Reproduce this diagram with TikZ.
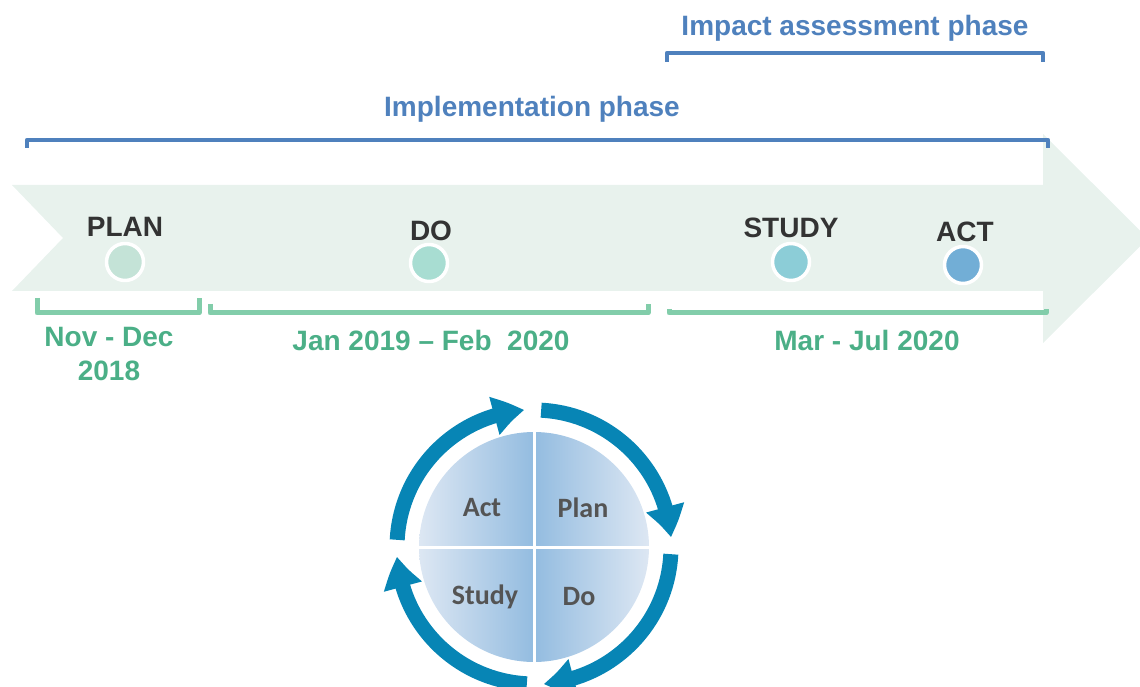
\documentclass[tikz,border=0pt]{standalone}
\usepackage{fontspec}
\setmainfont{Liberation Sans}
\newfontfamily\cyclefont{Carlito}
\usetikzlibrary{arrows.meta,bending}

\definecolor{phaseblue}{HTML}{4F81BD}
\definecolor{datetext}{HTML}{4BAF87}
\definecolor{dateline}{HTML}{82CDAA}
\definecolor{band}{HTML}{E8F2ED}
\definecolor{steptext}{HTML}{333333}
\definecolor{ringblue}{HTML}{0785B5}
\definecolor{quaddark}{HTML}{93BCE0}
\definecolor{quadlight}{HTML}{DDE7F3}
\definecolor{quadtext}{HTML}{545454}

\begin{document}
\begin{tikzpicture}[x=1pt,y=1pt,line join=round,
                    every node/.style={font=\fontsize{28}{34}\selectfont\bfseries,inner sep=0}]
  \tikzstyle{phase}=[text=phaseblue]
  \tikzstyle{phasebracket}=[draw=phaseblue,line width=4.5]
  \tikzstyle{stage}=[text=steptext]
  \tikzstyle{dot}=[circle,draw=white,line width=3.5,minimum size=37]
  \tikzstyle{period}=[text=datetext,align=center]
  \tikzstyle{periodbracket}=[draw=dateline,line width=5]
  \tikzstyle{cycarrow}=[draw=ringblue,line width=15,-{Triangle[length=31,width=37,bend]}]
  \tikzstyle{quad}=[font=\cyclefont\fontsize{28}{30}\selectfont\bfseries,text=quadtext]

  \clip (0,0) rectangle (1140,686);

  % timeline band
  \fill[band] (12,501) -- (1043,501) -- (1043,552) -- (1148,447.5) -- (1043,343)
              -- (1043,395) -- (12,395) -- (63,448) -- cycle;

  % phases
  \node[phase] (impact) at (855,658) {Impact assessment phase};
  \coordinate (impact-l) at (667,633);
  \coordinate (impact-r) at (1043,633);
  \draw[phasebracket] ([yshift=-9]impact-l) -- (impact-l) -- (impact-r) -- ([yshift=-9]impact-r);

  \node[phase] (impl) at (532,577) {Implementation phase};
  \coordinate (impl-l) at (27,546);
  \coordinate (impl-r) at (1048,546);
  \draw[phasebracket] ([yshift=-8]impl-l) -- (impl-l) -- (impl-r) -- ([yshift=-8]impl-r);

  % stages
  \node[stage] (plan)  at (125,459) {PLAN};
  \node[stage] (do)    at (431,455) {DO};
  \node[stage] (study) at (791,458) {STUDY};
  \node[stage] (act)   at (965,454) {ACT};
  \node[dot,fill={rgb,255:red,196;green,227;blue,215}] (plan-dot)  at (125,424) {};
  \node[dot,fill={rgb,255:red,168;green,221;blue,210}] (do-dot)    at (429,423) {};
  \node[dot,fill={rgb,255:red,140;green,205;blue,215}] (study-dot) at (791,424) {};
  \node[dot,fill={rgb,255:red,114;green,174;blue,214}] (act-dot)   at (963,421) {};

  % periods
  \coordinate (p1-l) at (37,373);  \coordinate (p1-r) at (199,373);
  \coordinate (p2-l) at (210,373); \coordinate (p2-r) at (648,373);
  \coordinate (p3-l) at (669,373); \coordinate (p3-r) at (1046,373);
  \draw[periodbracket] ([yshift=15]p1-l) -- (p1-l) -- (p1-r) -- ([yshift=15]p1-r);
  \draw[periodbracket] ([yshift=9]p2-l) -- (p2-l) -- (p2-r) -- ([yshift=9]p2-r);
  \draw[periodbracket] ([yshift=4]p3-l) -- (p3-l) -- (p3-r) -- ([yshift=4]p3-r);
  \node[period] (p1) at (109,332) {Nov - Dec\\2018};
  \node[period] (p2) at (431,346) {Jan 2019 -- Feb~~2020};
  \node[period] (p3) at (867,346) {Mar - Jul 2020};

  % PDCA cycle
  \begin{scope}[shift={(534,139)}]
    \shade[left color=quadlight,right color=quaddark] (0,0) -- (180:115) arc[start angle=180,end angle=90,radius=115] -- cycle;
    \shade[left color=quaddark,right color=quadlight] (0,0) -- (90:115) arc[start angle=90,end angle=0,radius=115] -- cycle;
    \shade[left color=quadlight,right color=quaddark] (0,0) -- (270:115) arc[start angle=270,end angle=180,radius=115] -- cycle;
    \shade[left color=quaddark,right color=quadlight] (0,0) -- (0:115) arc[start angle=0,end angle=-90,radius=115] -- cycle;
    \draw[white,line width=3] (-116,0) -- (116,0) (0,-116) -- (0,116);

    \draw[cycarrow] (87:137) arc[start angle=87,end angle=4,radius=137];
    \draw[cycarrow] (-3:137) arc[start angle=-3,end angle=-86,radius=137];
    \draw[cycarrow] (-93:137) arc[start angle=-93,end angle=-176,radius=137];
    \draw[cycarrow] (177:137) arc[start angle=177,end angle=94,radius=137];

    \node[quad] (q-act)   at (-52,39)  {Act};
    \node[quad] (q-plan)  at (49,39)   {Plan};
    \node[quad] (q-study) at (-49,-50) {Study};
    \node[quad] (q-do)    at (45,-50)  {Do};
  \end{scope}
\end{tikzpicture}
\end{document}
